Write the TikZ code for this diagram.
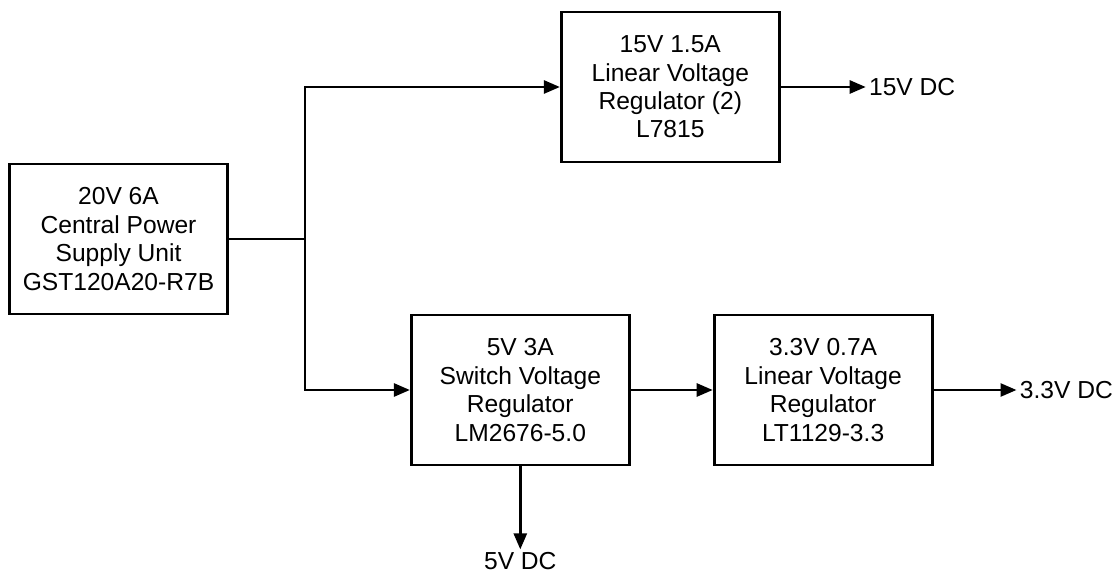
\documentclass[tikz,border=0pt]{standalone}
\usepackage{fontspec}
\setmainfont{Liberation Sans}
\usepackage{tikz}
\usetikzlibrary{arrows.meta,positioning}

\begin{document}
\begin{tikzpicture}[
      wire/.style={line width=1.3pt, black},
      arr/.style={-{Triangle[length=8pt,width=6.5pt]}, line width=1.3pt, black},
      regbox/.style={draw=black, line width=1.4pt, align=center, inner sep=2pt,
                     minimum width=109pt, minimum height=75pt,
                     font=\fontsize{12.3}{14.2}\selectfont},
      outlbl/.style={inner sep=1.5pt, font=\fontsize{12.3}{14.2}\selectfont}
    ]
    \useasboundingbox (-59.25pt,119.5pt) rectangle (496.75pt,-169pt);
    \node[regbox] (psu) at (0,0) {%
      20V 6A\\
      Central Power\\
      Supply Unit\\
      GST120A20-R7B};
    \coordinate[right=38pt of psu.east] (split);
    \node[regbox, right=127.5pt of split, yshift=76pt] (reg15) {%
      15V 1.5A\\
      Linear Voltage\\
      Regulator (2)\\
      L7815};
    \node[regbox, right=52.5pt of split, yshift=-75.5pt] (reg5) {%
      5V 3A\\
      Switch Voltage\\
      Regulator\\
      LM2676-5.0};
    \node[regbox, right=41pt of reg5] (reg33) {%
      3.3V 0.7A\\
      Linear Voltage\\
      Regulator\\
      LT1129-3.3};
    \node[outlbl, right=42.5pt of reg15.east, anchor=west] (out15) {15V DC};
    \node[outlbl, right=41.5pt of reg33.east, anchor=west] (out33) {3.3V DC};
    \node[outlbl, below=41.5pt of reg5.south, anchor=north] (out5) {5V DC};
    \draw[wire] (psu.east) -- (split);
    \draw[arr] (split) |- (reg15.west);
    \draw[arr] (split) |- (reg5.west);
    \draw[arr] (reg5.east) -- (reg33.west);
    \draw[arr] (reg15.east) -- (out15.west);
    \draw[arr] (reg33.east) -- (out33.west);
    \draw[arr] (reg5.south) -- (out5.north);
  \end{tikzpicture}
\end{document}
